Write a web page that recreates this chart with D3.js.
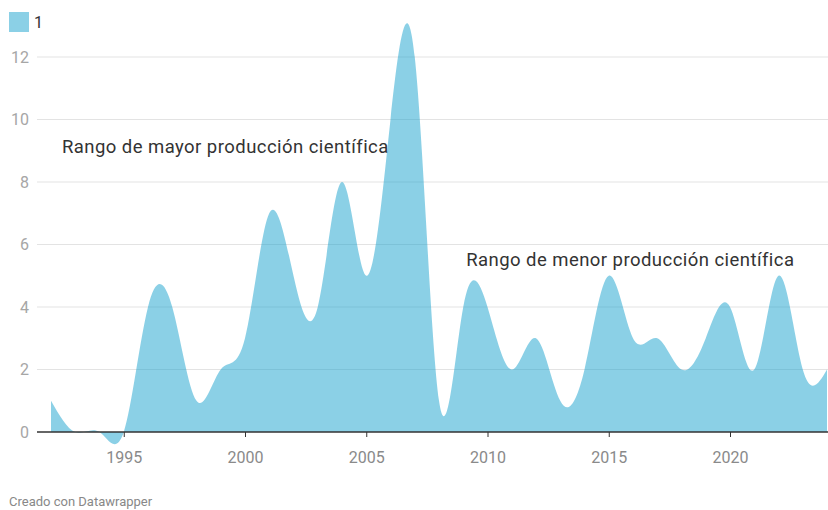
<!DOCTYPE html>
<html>
<head>
<meta charset="utf-8">
<script src="https://cdn.jsdelivr.net/npm/d3@7"></script>
<style>
  body { margin: 0; background: #fff; font-family: Roboto, "Noto Sans", sans-serif; }
  svg text { font-family: Roboto, "Noto Sans", sans-serif; }
</style>
</head>
<body>
<svg id="chart" width="828" height="510"></svg>
<script>
// data
const years = [1992, 1993, 1994, 1995, 1996, 1997, 1998, 1999, 2000, 2001, 2002,
  2003, 2004, 2005, 2006, 2007, 2008, 2009, 2010, 2011, 2012, 2013, 2014, 2015,
  2016, 2017, 2018, 2019, 2020, 2021, 2022, 2023, 2024]
const values = [1, 0, 0, 0, 4, 4, 1, 2, 3, 7, 5,
  4, 8, 5, 10, 12, 1, 4, 4, 2, 3, 1, 2, 5,
  3, 3, 2, 3, 4, 2, 5, 2, 2]
const yTicks = [0, 2, 4, 6, 8, 10, 12]
const xTicks = [1995, 2000, 2005, 2010, 2015, 2020]
const seriesName = "1"
const notes = [
  { text: "Rango de mayor producción científica", year: 1992.45, value: 8.93 },
  { text: "Rango de menor producción científica", year: 2009.12, value: 5.3 }
]

const color = "#18a1cd"
const svg = d3.select("#chart")

const xScale = d3.scaleLinear().domain([1992, 2024]).range([51, 827])
const yScale = d3.scaleLinear().domain([0, 12]).range([432, 57])

const data = years.map((y, i) => ({ year: y, value: values[i] }))

// gridlines + y labels
const grid = svg.append("g")
grid.selectAll("line")
    .data(yTicks.filter(d => d > 0))
    .enter()
    .append("line")
    .attr("x1", 37)
    .attr("x2", 828)
    .attr("y1", d => yScale(d))
    .attr("y2", d => yScale(d))
    .attr("stroke", "#e3e3e3")
    .attr("stroke-width", 1)

grid.selectAll("text")
    .data(yTicks)
    .enter()
    .append("text")
    .attr("x", 29)
    .attr("y", d => yScale(d))
    .attr("dy", "0.35em")
    .attr("text-anchor", "end")
    .attr("fill", "#a6a6a6")
    .attr("font-size", 16)
    .text(d => d)

// area
const area = d3.area()
    .x(d => xScale(d.year))
    .y0(yScale(0))
    .y1(d => yScale(d.value))
    .curve(d3.curveNatural)

svg.append("path")
    .datum(data)
    .attr("d", area)
    .attr("fill", color)
    .attr("fill-opacity", 0.5)

// x axis
const xAxis = d3.axisBottom(xScale)
    .tickValues(xTicks)
    .tickFormat(d3.format("d"))
    .tickSize(5)
    .tickPadding(15)

const gx = svg.append("g")
    .attr("transform", "translate(0," + yScale(0) + ")")
    .call(xAxis)
gx.select(".domain").remove()
gx.selectAll(".tick line").attr("stroke", "#333")
gx.selectAll(".tick text")
    .attr("fill", "#8a8a8a")
    .attr("font-size", 16)
    .style("font-family", "Roboto, sans-serif")

svg.append("line")
    .attr("x1", 37)
    .attr("x2", 828)
    .attr("y1", yScale(0))
    .attr("y2", yScale(0))
    .attr("stroke", "#333")
    .attr("stroke-width", 1.5)

// legend
svg.append("rect")
    .attr("x", 9)
    .attr("y", 12)
    .attr("width", 20)
    .attr("height", 20)
    .attr("fill", color)
    .attr("fill-opacity", 0.5)
svg.append("text")
    .attr("x", 34)
    .attr("y", 22)
    .attr("dy", "0.35em")
    .attr("fill", "#333")
    .attr("font-size", 16)
    .text(seriesName)

// annotations
svg.selectAll(".note")
    .data(notes)
    .enter()
    .append("text")
    .attr("class", "note")
    .attr("x", d => xScale(d.year))
    .attr("y", d => yScale(d.value))
    .attr("fill", "#333")
    .attr("font-size", 18.5)
    .attr("letter-spacing", "0.45px")
    .text(d => d.text)

// footer
svg.append("text")
    .attr("x", 9)
    .attr("y", 506)
    .attr("fill", "#888")
    .attr("font-size", 13)
    .text("Creado con Datawrapper")
</script>
</body>
</html>
